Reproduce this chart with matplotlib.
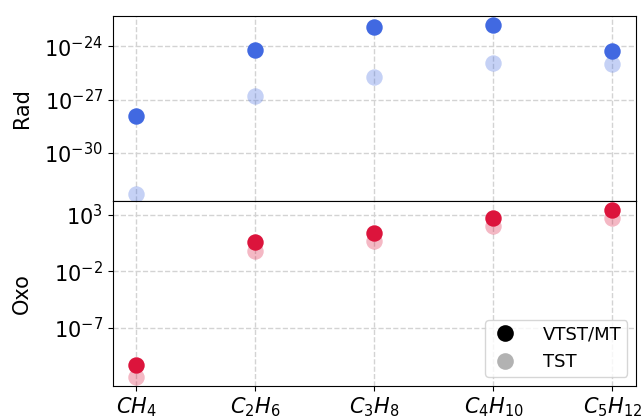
import matplotlib
matplotlib.use("Agg")
import matplotlib.pyplot as plt
from matplotlib.lines import Line2D
import numpy as np

species = ['$CH_4$', '$C_2H_6$', '$C_3H_8$', '$C_4H_{10}$', '$C_5H_{12}$']

# log10 of rate values
rad_vtst = [-27.9, -24.2, -22.9, -22.8, -24.3]
rad_tst = [-32.3, -26.8, -25.75, -24.95, -25.0]
oxo_vtst = [-10.25, 0.55, 1.4, 2.7, 3.4]
oxo_tst = [-11.35, -0.25, 0.65, 1.95, 2.7]

x = np.arange(len(species))

fig, (ax1, ax2) = plt.subplots(2, 1, figsize=(6.44, 4.19), dpi=100, sharex=True)
fig.subplots_adjust(left=0.175, right=0.988, top=0.962, bottom=0.079, hspace=0)

ms = 140
ax1.scatter(x, 10 ** np.array(rad_vtst), s=ms, color='royalblue', zorder=3, linewidths=0)
ax1.scatter(x, 10 ** np.array(rad_tst), s=ms, color='royalblue', alpha=0.3, zorder=3, linewidths=0)
ax2.scatter(x, 10 ** np.array(oxo_vtst), s=ms, color='crimson', zorder=3, linewidths=0)
ax2.scatter(x, 10 ** np.array(oxo_tst), s=ms, color='crimson', alpha=0.3, zorder=3, linewidths=0)

ax1.set_yscale('log')
ax2.set_yscale('log')
ax1.set_ylim(10 ** -32.7, 10 ** -22.3)
ax2.set_ylim(10 ** -12.1, 10 ** 4.2)
ax1.set_yticks([1e-30, 1e-27, 1e-24])
ax2.set_yticks([1e-7, 1e-2, 1e3])
ax1.minorticks_off()
ax2.minorticks_off()

ax2.set_xlim(-0.2, 4.2)
ax2.set_xticks(x)
ax2.set_xticklabels(species)

for ax in (ax1, ax2):
    ax.grid(True, linestyle='--', color='lightgray', linewidth=1)
    ax.set_axisbelow(True)
    ax.tick_params(labelsize=15)
ax1.tick_params(axis='x', length=0)

ax1.set_ylabel('Rad', fontsize=15)
ax2.set_ylabel('Oxo', fontsize=15)
ax1.yaxis.set_label_coords(-0.155, 0.5)
ax2.yaxis.set_label_coords(-0.155, 0.5)

handles = [
    Line2D([], [], linestyle='none', marker='o', markersize=12, markeredgewidth=0,
           color='black', label='VTST/MT'),
    Line2D([], [], linestyle='none', marker='o', markersize=12, markeredgewidth=0,
           color='black', alpha=0.3, label='TST'),
]
ax2.legend(handles=handles, loc='lower right', fontsize=13, framealpha=0.8,
           handletextpad=1.3, borderpad=0.3, labelspacing=0.55, handlelength=1.6)

plt.savefig('out.png', dpi=100)
